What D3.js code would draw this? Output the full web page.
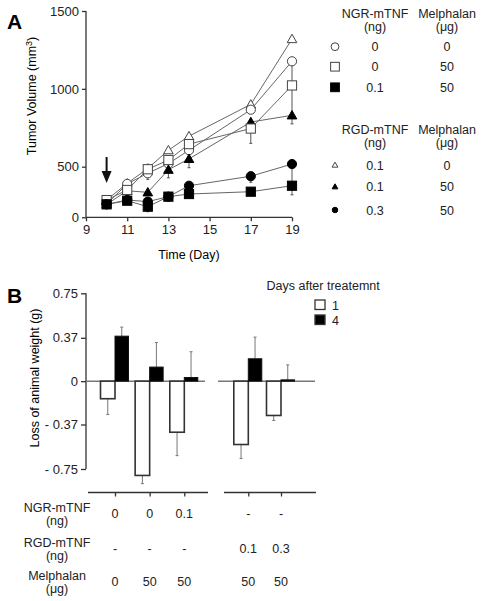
<!DOCTYPE html>
<html><head><meta charset="utf-8">
<script src="https://cdn.jsdelivr.net/npm/d3@7"></script>
<style>
body{margin:0;background:#fff;}
svg{font-family:"Liberation Sans",Arial,Helvetica,sans-serif;}
</style></head>
<body>
<svg id="c" width="482" height="601"></svg>
<script>
// ---------- Panel A data ----------
const days = [10, 11, 12, 13, 14, 17, 19];
const xTicksA = [9, 11, 13, 15, 17, 19];
const yTicksA = [0, 500, 1000, 1500];
const ngr0mel0   = [130, 330, 435, 520, 606, 866, 1177];   // open circle
const ngr0mel50  = [170, 270, 475, 543, 645, 745, 1022];   // open square
const ngr01mel50 = [128, 164, 105, 204, 230, 253, 312];    // filled square
const rgd01mel0  = [171, 335, 483, 606, 696, 900, 1320];   // open triangle
const rgd01mel50 = [128, 262, 247, 470, 550, 787, 830];    // filled triangle
const rgd03mel50 = [128, 171, 155, 204, 312, 406, 517];    // filled circle
const errNgr0mel0   = [0, 0, 60, 0, 40, 0, 150];
const errNgr0mel50  = [0, 30, 0, 0, 0, 95, 180];
const errNgr01mel50 = [0, 20, 50, 30, 30, 0, 90];
const errRgd01mel0  = [0, 0, 0, 0, 0, 0, 0];
const errRgd01mel50 = [0, 0, 0, 80, 60, 0, 55];
const errRgd03mel50 = [0, 0, 0, 0, 0, 60, 180];
const arrowDay = 10;

// legend A
const legNgrHeader = ["NGR-mTNF", "(ng)", "Melphalan", "(\u03bcg)"];
const legNgrDose = ["0", "0", "0.1"];
const legNgrMel = ["0", "50", "50"];
const legRgdHeader = ["RGD-mTNF", "(ng)", "Melphalan", "(\u03bcg)"];
const legRgdDose = ["0.1", "0.1", "0.3"];
const legRgdMel = ["0", "50", "50"];

// ---------- Panel B data ----------
const groupsLeft = ["g1", "g2", "g3"];
const groupsRight = ["g4", "g5"];
const day1Loss = [-0.15, -0.805, -0.436, -0.541, -0.293];
const day4Loss = [0.384, 0.12, 0.031, 0.191, 0.011];
const day1Err = [0.135, 0.07, 0.2, 0.12, 0.043];
const day4Err = [0.077, 0.21, 0.22, 0.185, 0.128];
const yTicksB = [0.75, 0.37, 0, -0.37, -0.75];
const yTickLabelsB = ["0.75", "0.37", "0", "- 0.37", "- 0.75"];
const tableNgr = ["0", "0", "0.1", "-", "-"];
const tableRgd = ["-", "-", "-", "0.1", "0.3"];
const tableMel = ["0", "50", "50", "50", "50"];
const legendDays = ["1", "4"];

const svg = d3.select("#c");
const axisCol = "#333";
const lineCol = "#666";

// ============ PANEL A ============
const xA = d3.scaleLinear().domain([9, 19]).range([86, 292]);
const yA = d3.scaleLinear().domain([0, 500, 1500]).range([217.3, 166.7, 11]);

svg.append("text").attr("x", 7).attr("y", 29).attr("font-size", 21).attr("font-weight", "bold").text("A");

const gxA = svg.append("g").attr("transform", "translate(0,217.3)")
  .call(d3.axisBottom(xA).tickValues(xTicksA).tickSize(4).tickPadding(3).tickFormat(d3.format("d")));
const gyA = svg.append("g").attr("transform", "translate(86,0)")
  .call(d3.axisLeft(yA).tickValues(yTicksA).tickSize(4).tickPadding(3).tickFormat(d3.format("d")));
[gxA, gyA].forEach(g => {
  g.select(".domain").attr("stroke", axisCol).attr("stroke-width", 1.3);
  g.selectAll(".tick line").attr("stroke", axisCol).attr("stroke-width", 1.3);
  g.selectAll(".tick text").attr("font-size", 13).attr("fill", "#222").attr("font-family", "Liberation Sans, Arial, sans-serif");
});
gxA.select(".domain").attr("d", "M86,0H292");
gyA.select(".domain").attr("d", "M0,11V217.3");

svg.append("text").attr("x", 189).attr("y", 259).attr("text-anchor", "middle").attr("font-size", 12.5).text("Time (Day)");
const ylab = svg.append("text").attr("transform", "translate(36,96) rotate(-90)").attr("text-anchor", "middle").attr("font-size", 12.5);
ylab.append("tspan").text("Tumor Volume (mm");
ylab.append("tspan").attr("dy", -4).attr("font-size", 9).text("3");
ylab.append("tspan").attr("dy", 4).text(")");

// arrow
const ax = xA(arrowDay);
svg.append("line").attr("x1", ax).attr("x2", ax).attr("y1", 157).attr("y2", 172).attr("stroke", "#111").attr("stroke-width", 2);
svg.append("path").attr("d", `M${ax-5},171L${ax+5},171L${ax},183Z`).attr("fill", "#111");

const series = [
  {v: rgd01mel0, e: errRgd01mel0, shape: "tri", fill: "#fff"},
  {v: ngr0mel0, e: errNgr0mel0, shape: "circ", fill: "#fff"},
  {v: rgd01mel50, e: errRgd01mel50, shape: "tri", fill: "#000"},
  {v: ngr0mel50, e: errNgr0mel50, shape: "sq", fill: "#fff"},
  {v: rgd03mel50, e: errRgd03mel50, shape: "circ", fill: "#000"},
  {v: ngr01mel50, e: errNgr01mel50, shape: "sq", fill: "#000"}
];
const line = d3.line().x((d, i) => xA(days[i])).y(d => yA(d));

function drawMarker(g, shape, fill, x, y, scale) {
  const s = scale || 1;
  const stroke = fill === "#fff" ? "#444" : "#000";
  if (shape === "circ") {
    g.append("circle").attr("cx", x).attr("cy", y).attr("r", 4.6 * s).attr("fill", fill).attr("stroke", stroke).attr("stroke-width", 1);
  } else if (shape === "sq") {
    const h = 4.6 * s;
    g.append("rect").attr("x", x - h).attr("y", y - h).attr("width", 2 * h).attr("height", 2 * h).attr("fill", fill).attr("stroke", stroke).attr("stroke-width", 1);
  } else {
    const h = 4.8 * s;
    g.append("path").attr("d", `M${x},${y - h}L${x + h},${y + h * 0.75}L${x - h},${y + h * 0.75}Z`).attr("fill", fill).attr("stroke", stroke).attr("stroke-width", 1);
  }
}

const gA = svg.append("g");
// error bars
series.forEach(s => {
  s.v.forEach((v, i) => {
    if (s.e[i] > 0) {
      const x = xA(days[i]);
      gA.append("line").attr("x1", x).attr("x2", x).attr("y1", yA(v)).attr("y2", yA(v - s.e[i])).attr("stroke", "#555").attr("stroke-width", 1);
      gA.append("line").attr("x1", x - 1.5).attr("x2", x + 1.5).attr("y1", yA(v - s.e[i])).attr("y2", yA(v - s.e[i])).attr("stroke", "#555").attr("stroke-width", 1);
    }
  });
});
series.forEach(s => {
  gA.append("path").attr("d", line(s.v)).attr("fill", "none").attr("stroke", lineCol).attr("stroke-width", 1);
});
series.forEach(s => {
  s.v.forEach((v, i) => drawMarker(gA, s.shape, s.fill, xA(days[i]), yA(v)));
});

// legend A
function legendBlock(y0, header, dose, mel, items) {
  const g = svg.append("g").attr("font-size", 12.5).attr("fill", "#222").attr("text-anchor", "middle");
  g.append("text").attr("x", 375).attr("y", y0).text(header[0]);
  g.append("text").attr("x", 375).attr("y", y0 + 13).text(header[1]);
  g.append("text").attr("x", 447).attr("y", y0).text(header[2]);
  g.append("text").attr("x", 447).attr("y", y0 + 13).text(header[3]);
  dose.forEach((d, i) => {
    const cy = y0 + items.offsets[i];
    g.append("text").attr("x", 375).attr("y", cy + 4.5).text(d);
    g.append("text").attr("x", 447).attr("y", cy + 4.5).text(mel[i]);
    drawMarker(svg, items.shapes[i], items.fills[i], 335, cy, items.scale[i]);
  });
}
legendBlock(18, legNgrHeader, legNgrDose, legNgrMel, {offsets: [28.7, 48.7, 69.3], shapes: ["circ", "sq", "sq"], fills: ["#fff", "#fff", "#000"], scale: [0.85, 0.95, 0.95]});
legendBlock(134, legRgdHeader, legRgdDose, legRgdMel, {offsets: [31, 52.7, 76], shapes: ["tri", "tri", "circ"], fills: ["#fff", "#000", "#000"], scale: [0.6, 0.6, 0.6]});

// ============ PANEL B ============
const yB = d3.scaleLinear().domain([-0.75, 0.75]).range([469, 293.3]);
const xL = d3.scalePoint().domain(groupsLeft).range([115, 184.3]);
const xR = d3.scalePoint().domain(groupsRight).range([248.3, 281]);
const allGroups = groupsLeft.concat(groupsRight);
const gx = g => groupsLeft.includes(g) ? xL(g) : xR(g);

svg.append("text").attr("x", 7).attr("y", 303).attr("font-size", 21).attr("font-weight", "bold").text("B");

const gyB = svg.append("g").attr("transform", "translate(86,0)")
  .call(d3.axisLeft(yB).tickValues(yTicksB).tickSize(5).tickPadding(3).tickFormat((d, i) => yTickLabelsB[i]));
gyB.select(".domain").attr("d", "M0,293.3V469").attr("stroke", axisCol).attr("stroke-width", 1.3);
gyB.selectAll(".tick line").attr("stroke", axisCol).attr("stroke-width", 1.3);
gyB.selectAll(".tick text").attr("font-size", 13).attr("fill", "#222").attr("font-family", "Liberation Sans, Arial, sans-serif");

svg.append("text").attr("transform", "translate(39,378) rotate(-90)").attr("text-anchor", "middle").attr("font-size", 12.5).text("Loss of animal weight (g)");

// zero lines
svg.append("line").attr("x1", 86).attr("x2", 205).attr("y1", yB(0)).attr("y2", yB(0)).attr("stroke", "#777").attr("stroke-width", 1.5);
svg.append("line").attr("x1", 218).attr("x2", 315).attr("y1", yB(0)).attr("y2", yB(0)).attr("stroke", "#777").attr("stroke-width", 1.5);

// bottom axes
const gbL = svg.append("g").attr("transform", "translate(0,492.5)").call(d3.axisBottom(xL).tickSize(4).tickFormat(""));
gbL.select(".domain").attr("d", "M88,0H208");
const gbR = svg.append("g").attr("transform", "translate(0,492.5)").call(d3.axisBottom(xR).tickSize(4).tickFormat(""));
gbR.select(".domain").attr("d", "M224,0H316");
[gbL, gbR].forEach(g => {
  g.select(".domain").attr("stroke", axisCol).attr("stroke-width", 1.3);
  g.selectAll(".tick line").attr("stroke", axisCol).attr("stroke-width", 1.3);
});

const gB = svg.append("g");
allGroups.forEach((g, i) => {
  const c = gx(g);
  const w1 = [c - 14.5, c], w4 = [c, c + 13.5];
  const e1x = (w1[0] + w1[1]) / 2, e4x = (w4[0] + w4[1]) / 2;
  const e1 = day1Loss[i] - day1Err[i], e4 = day4Loss[i] + day4Err[i];
  gB.append("line").attr("x1", e1x).attr("x2", e1x).attr("y1", yB(day1Loss[i])).attr("y2", yB(e1)).attr("stroke", "#777").attr("stroke-width", 1);
  gB.append("line").attr("x1", e1x - 1.5).attr("x2", e1x + 1.5).attr("y1", yB(e1)).attr("y2", yB(e1)).attr("stroke", "#777").attr("stroke-width", 1);
  gB.append("line").attr("x1", e4x).attr("x2", e4x).attr("y1", yB(day4Loss[i])).attr("y2", yB(e4)).attr("stroke", "#777").attr("stroke-width", 1);
  gB.append("line").attr("x1", e4x - 1.5).attr("x2", e4x + 1.5).attr("y1", yB(e4)).attr("y2", yB(e4)).attr("stroke", "#777").attr("stroke-width", 1);
  gB.append("rect").attr("x", w1[0]).attr("width", w1[1] - w1[0])
    .attr("y", yB(Math.max(0, day1Loss[i]))).attr("height", Math.abs(yB(day1Loss[i]) - yB(0)))
    .attr("fill", "#fff").attr("stroke", "#333").attr("stroke-width", 1.6);
  gB.append("rect").attr("x", w4[0]).attr("width", w4[1] - w4[0])
    .attr("y", yB(Math.max(0, day4Loss[i]))).attr("height", Math.abs(yB(day4Loss[i]) - yB(0)))
    .attr("fill", "#000").attr("stroke", "#111").attr("stroke-width", 1);
});

// legend B
svg.append("text").attr("x", 266.5).attr("y", 290).attr("font-size", 12.5).attr("fill", "#222").text("Days after treatemnt");
legendDays.forEach((d, i) => {
  const y = 300 + i * 15;
  svg.append("rect").attr("x", 315).attr("y", y).attr("width", 10).attr("height", 9.5)
    .attr("fill", i === 0 ? "#fff" : "#000").attr("stroke", "#333").attr("stroke-width", 1.3);
  svg.append("text").attr("x", 332).attr("y", y + 9.5).attr("font-size", 12.5).attr("fill", "#222").text(d);
});

// table
const tg = svg.append("g").attr("font-size", 12.5).attr("fill", "#222").attr("text-anchor", "middle");
const rowHeads = [["NGR-mTNF", "(ng)"], ["RGD-mTNF", "(ng)"], ["Melphalan", "(\u03bcg)"]];
const rowY = [507.3, 542.7, 575];
const rowVals = [tableNgr, tableRgd, tableMel];
rowHeads.forEach((h, r) => {
  tg.append("text").attr("x", 57).attr("y", rowY[r] + 4.5).text(h[0]);
  tg.append("text").attr("x", 57).attr("y", rowY[r] + 17.5).text(h[1]);
  rowVals[r].forEach((v, i) => {
    tg.append("text").attr("x", gx(allGroups[i])).attr("y", rowY[r] + 10.5).text(v);
  });
});
</script>
</body></html>
